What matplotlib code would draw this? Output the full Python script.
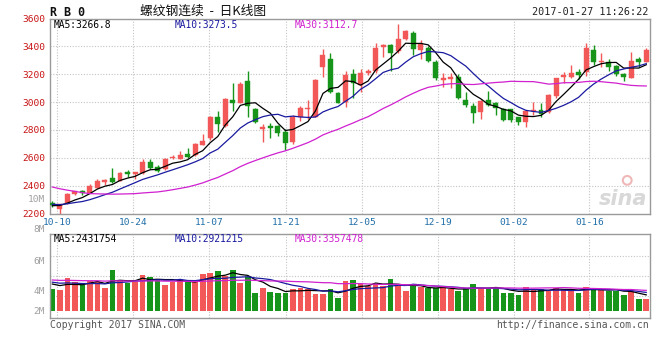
import matplotlib
matplotlib.use("Agg")
import matplotlib.pyplot as plt
import numpy as np
import pandas as pd

W, H = 660, 360

# ---------------- data ----------------
opens = [2272, 2233, 2273, 2338, 2364, 2349, 2385, 2428, 2457, 2433,
         2498, 2484, 2489, 2572, 2536, 2517, 2596, 2593, 2625, 2620,
         2692, 2740, 2890, 2825, 3015, 2996, 3151, 2948, 2805, 2828,
         2828, 2783, 2715, 2890, 2948, 2895, 3254, 3309, 3067, 3003,
         3202, 3123, 3207, 3225, 3398, 3410, 3369, 3453, 3498, 3374,
         3386, 3290, 3160, 3165, 3182, 3015, 2972, 2931, 3015, 2996,
         2948, 2948, 2890, 2859, 2938, 2943, 2931, 3044, 3180, 3182,
         3218, 3218, 3374, 3285, 3290, 3261, 3199, 3175, 3309, 3290]
highs = [2290, 2270, 2345, 2365, 2370, 2410, 2450, 2445, 2525, 2500,
         2510, 2500, 2590, 2590, 2545, 2600, 2620, 2649, 2668, 2705,
         2771, 2900, 2938, 3030, 3140, 3146, 3223, 2960, 2840, 2847,
         2835, 2810, 2905, 2975, 3015, 3165, 3379, 3354, 3070, 3225,
         3235, 3235, 3240, 3426, 3420, 3420, 3561, 3520, 3510, 3446,
         3400, 3300, 3206, 3206, 3200, 3070, 2990, 3015, 3080, 3000,
         2955, 2950, 2895, 2945, 3003, 2990, 3060, 3175, 3218, 3266,
         3240, 3422, 3410, 3350, 3310, 3265, 3210, 3357, 3321, 3390]
lows = [2250, 2200, 2270, 2335, 2335, 2345, 2380, 2405, 2420, 2430,
        2460, 2450, 2485, 2520, 2500, 2510, 2590, 2590, 2600, 2615,
        2690, 2728, 2787, 2820, 2936, 2990, 2895, 2850, 2711, 2740,
        2760, 2656, 2700, 2866, 2880, 2890, 3182, 3065, 2990, 2967,
        3027, 3074, 3195, 3210, 3326, 3225, 3350, 3445, 3338, 3307,
        3290, 3160, 3110, 3099, 3020, 2967, 2848, 2876, 2970, 2907,
        2865, 2860, 2833, 2823, 2907, 2890, 2925, 3027, 3135, 3175,
        3165, 3190, 3266, 3254, 3225, 3190, 3151, 3170, 3254, 3285]
closes = [2258, 2268, 2340, 2362, 2345, 2400, 2433, 2440, 2424, 2489,
          2484, 2495, 2572, 2529, 2507, 2589, 2608, 2620, 2607, 2697,
          2723, 2895, 2840, 3022, 2992, 3130, 2972, 2859, 2823, 2815,
          2776, 2708, 2895, 2960, 2960, 3159, 3338, 3074, 2996, 3194,
          3135, 3207, 3223, 3390, 3410, 3350, 3453, 3510, 3379, 3415,
          3297, 3171, 3170, 3178, 3027, 2979, 2924, 3008, 2979, 2955,
          2871, 2871, 2855, 2938, 2945, 2914, 3051, 3171, 3192, 3211,
          3194, 3386, 3290, 3295, 3254, 3199, 3182, 3295, 3290, 3374]
# volume in millions of lots
volumes = [3.50, 3.34, 5.27, 4.68, 4.15, 4.79, 4.68, 3.71, 6.56, 4.79,
           4.42, 4.68, 5.76, 5.39, 5.11, 4.15, 4.68, 4.95, 4.79, 4.58,
           5.92, 6.13, 6.40, 5.60, 6.56, 4.52, 5.39, 2.90, 3.71, 3.06,
           2.90, 2.90, 3.45, 3.71, 3.45, 2.69, 2.69, 3.50, 2.10, 4.79,
           4.95, 4.26, 3.98, 4.31, 3.98, 5.11, 3.98, 3.18, 4.15, 3.77,
           3.61, 3.61, 3.61, 3.45, 3.23, 3.61, 4.31, 3.45, 3.61, 3.77,
           2.90, 2.81, 2.53, 3.77, 3.45, 3.45, 3.23, 3.61, 3.45, 3.45,
           2.90, 3.77, 3.45, 3.34, 3.23, 3.23, 2.53, 3.23, 1.89, 1.89]
# sessions before the window (estimated from where the MA lines start)
prior_closes = [2650, 2640, 2625, 2620, 2610, 2480, 2470, 2465, 2455, 2450,
                2445, 2430, 2415, 2400, 2370, 2350, 2330, 2310, 2280, 2254,
                2290, 2280, 2275, 2270, 2265, 2260, 2255, 2250, 2257]
prior_volumes = [5.3, 4.9, 5.4, 5.0, 5.2, 4.8, 5.5, 5.1, 4.9, 5.3,
                 5.0, 5.2, 4.9, 5.4, 5.1, 5.0, 5.3, 4.9, 5.2, 5.2,
                 5.0, 4.8, 5.1, 4.7, 4.9, 4.6, 4.3, 4.7, 4.4]

date_labels = ["10-10", "10-24", "11-07", "11-21", "12-05", "12-19", "01-02", "01-16"]
date_positions = [0.63, 10.75, 20.9, 31.05, 41.2, 51.3, 61.35, 71.45]
price_ticks = [2200, 2400, 2600, 2800, 3000, 3200, 3400, 3600]
ma_periods = [5, 10, 30]
ma_colors = ["#000000", "#1a1aa0", "#d020d0"]
price_ma_text = ["MA5:3266.8", "MA10:3273.5", "MA30:3112.7"]
vol_ma_text = ["MA5:2431754", "MA10:2921215", "MA30:3357478"]
vol_labels = ["8M", "6M", "4M", "2M"]

RED = "#f25858"
GREEN = "#17951b"
GRID = "#c4c4c4"
SPINE = "#9a9a9a"
MONO = "DejaVu Sans Mono"

n = len(closes)
x = np.arange(n)
up = np.array(closes) >= np.array(opens)
colors = np.where(up, RED, GREEN)


def moving(prior, vals, p):
    s = pd.Series(list(prior) + list(vals)).rolling(p).mean()
    return s.iloc[len(prior):].to_numpy()


fig = plt.figure(figsize=(W / 100, H / 100), dpi=100)
fig.patch.set_facecolor("white")


def ftext(px, py, s, **kw):
    kw.setdefault("va", "center")
    fig.text(px / W, 1 - py / H, s, **kw)


def axes_px(left, top, right, bottom):
    return fig.add_axes([left / W, 1 - bottom / H, (right - left) / W, (bottom - top) / H])


xlim = (-0.31, 79.5)

# ---------------- price panel ----------------
ax = axes_px(50, 18.5, 650, 213.5)
ax.set_xlim(*xlim)
ax.set_ylim(2200, 3600)
for v in price_ticks[1:-1]:
    ax.axhline(v, color=GRID, lw=0.8, ls=(0, (1, 1.5)), zorder=0)
for v in date_positions:
    ax.axvline(v, color=GRID, lw=0.8, ls=(0, (1, 1.5)), zorder=0)

o = np.array(opens); c = np.array(closes)
body_lo = np.minimum(o, c)
body_h = np.maximum(np.abs(c - o), 6)
ax.vlines(x, lows, highs, colors=colors, lw=1.0, zorder=2)
ax.bar(x, body_h, bottom=body_lo, width=0.66, color=colors, edgecolor=colors,
       lw=0.3, zorder=3)

for p, col in zip(ma_periods, ma_colors):
    ax.plot(x, moving(prior_closes, closes, p), color=col, lw=0.9, zorder=4)

ax.set_yticks(price_ticks)
ax.set_yticklabels([str(t) for t in price_ticks], color="#c81414",
                   fontfamily=MONO, fontsize=6.8)
ax.set_xticks(date_positions)
ax.set_xticklabels(date_labels, color="#1f6ea8", fontfamily=MONO, fontsize=6.8)
ax.tick_params(length=0, pad=3.5)
for sp in ax.spines.values():
    sp.set_color(SPINE)
    sp.set_linewidth(1.0)

# watermark
ax.text(0.955, 0.075, "sina", transform=ax.transAxes, ha="center", va="center",
        fontsize=15, fontstyle="italic", fontweight="bold", color="#d8d8d8", zorder=1)
ax.scatter([0.962], [0.17], s=40, transform=ax.transAxes, facecolor="none",
           edgecolor="#f0b8b8", lw=1.5, zorder=1)

# ---------------- volume panel ----------------
vscale_base, vpx = 310.7, 6.2           # pixel row of zero volume, pixels per million


def vol_at(py):
    return (vscale_base - py) / vpx


av = axes_px(50, 234, 650, 318)
av.set_xlim(*xlim)
av.set_ylim(vol_at(318), vol_at(234))
for py in (255.5, 275.5, 295.5):
    av.axhline(vol_at(py), color=GRID, lw=0.8, ls=(0, (1, 1.5)), zorder=0)
for v in date_positions:
    av.axvline(v, color=GRID, lw=0.8, ls=(0, (1, 1.5)), zorder=0)
av.bar(x, volumes, width=0.76, color=colors, lw=0, zorder=2)
for p, col in zip(ma_periods, ma_colors):
    av.plot(x, moving(prior_volumes, volumes, p), color=col, lw=0.9, zorder=4)
av.set_xticks([]); av.set_yticks([])
for sp in av.spines.values():
    sp.set_color(SPINE)
    sp.set_linewidth(1.0)

# ---------------- texts ----------------
ftext(50, 13, "R B 0", fontfamily=MONO, fontweight="bold", fontsize=8.4, color="#111111")
ftext(140, 11, "螺纹钢连续  -  日K线图", fontfamily=["Noto Sans CJK SC", "DejaVu Sans"],
      fontsize=9.2, color="#111111")
ftext(648, 12, "2017-01-27 11:26:22", fontfamily=MONO, fontsize=7.3, color="#222222", ha="right")

for s, col, px0 in zip(price_ma_text, ma_colors, (54, 175, 295)):
    ftext(px0, 24.5, s, fontfamily=MONO, fontsize=6.9, color=col)
for s, col, px0 in zip(vol_ma_text, ma_colors, (54, 175, 295)):
    ftext(px0, 239.5, s, fontfamily=MONO, fontsize=6.9, color=col)

ftext(45, 200, "10M", fontfamily=MONO, fontsize=6.8, color="#a0a0a0", ha="right")
for s, py in zip(vol_labels, (230, 261, 291, 311)):
    ftext(45, py, s, fontfamily=MONO, fontsize=6.8, color="#a0a0a0", ha="right")

ftext(50, 324.5, "Copyright 2017 SINA.COM", fontfamily=MONO, fontsize=7.0, color="#555555")
ftext(649, 324.5, "http://finance.sina.com.cn", fontfamily=MONO, fontsize=7.0,
      color="#555555", ha="right")

fig.savefig("out.png", dpi=100, facecolor="white")
